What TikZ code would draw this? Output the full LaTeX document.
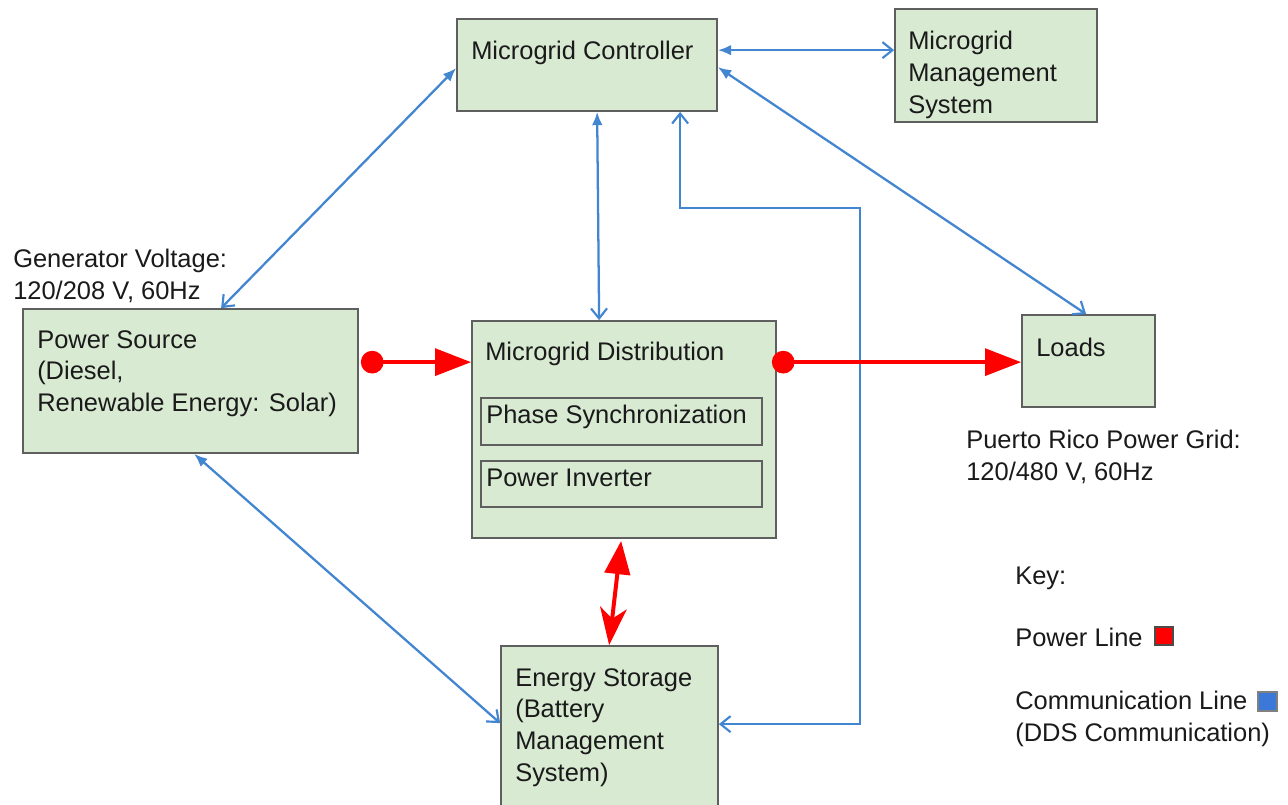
\documentclass[tikz,border=0pt]{standalone}
\usepackage{fontspec}
\setmainfont{Liberation Sans}
\usetikzlibrary{arrows.meta,calc,fit}
\definecolor{boxfill}{HTML}{D9EAD3}
\definecolor{boxline}{HTML}{5F5F5F}
\definecolor{commblue}{HTML}{4285D0}
\definecolor{keyblue}{HTML}{3C78D8}
\definecolor{txt}{HTML}{1A1A1A}
\begin{document}
\begin{tikzpicture}[x=0.75pt,y=-0.75pt,
  box/.style={draw=boxline,fill=boxfill,line width=1.3pt,inner sep=0pt},
  lbl/.style={anchor=north west,inner sep=0pt,align=left,text=txt,
    font=\fontsize{19.1}{23.8}\selectfont},
  comm/.style={draw=commblue,line width=1.7pt},
  power/.style={draw=red,line width=3pt},
]
\useasboundingbox (0,0) rectangle (1288,804);
\fill[white] (0,0) rectangle (1288,804);

% boxes
\node[box,fit={(457,19) (717,111)}] (ctrl) {};
\node[box,fit={(895,9) (1097,122)}] (mms) {};
\node[box,fit={(23,309) (358,453)}] (ps) {};
\node[box,fit={(472,321) (776,538)}] (dist) {};
\node[box,fit={(481,398) (762,445)}] (phase) {};
\node[box,fit={(481,461) (762,507)}] (inv) {};
\node[box,fit={(1022,315) (1155,407)}] (loads) {};
\node[box,fit={(501,646) (718,812)}] (es) {};

% labels
\node[lbl] (ctrlt) at (471,41) {Microgrid Controller};
\node[lbl] (mmst) at (908,31) {Microgrid\\Management\\System};
\node[lbl] (gent) at (13,249) {Generator Voltage:\\120/208 V, 60Hz};
\node[lbl] (pst) at (37,330) {Power Source\\(Diesel,\\Renewable Energy: Solar)};
\node[lbl] (distt) at (485,342) {Microgrid Distribution};
\node[lbl] (phaset) at (486,405) {Phase Synchronization};
\node[lbl] (invt) at (486,469) {Power Inverter};
\node[lbl] (loadst) at (1036,338) {Loads};
\node[lbl] (prt) at (966,430) {Puerto Rico Power Grid:\\120/480 V, 60Hz};
\node[lbl] (est) at (515,668) {Energy Storage\\(Battery\\Management\\System)};
\node[lbl] (keyt) at (1015,567) {Key:};
\node[lbl] (plt) at (1015,628) {Power Line};
\node[lbl] (clt) at (1015,691) {Communication Line\\(DDS Communication)};
\node[draw=black!70,fill=red,line width=0.8pt,inner sep=0pt,fit={(1155,627) (1173,645)}] (redsq) {};
\node[draw=black!50,fill=keyblue,line width=0.8pt,inner sep=0pt,fit={(1258,692) (1277,711)}] (bluesq) {};

% communication lines
\tikzset{fl/.tip={Latex[length=10pt,width=8pt]},
         op/.tip={Straight Barb[length=7.5pt,width=12pt,line width=1.6pt]}}
\draw[comm,fl-op] ($(ctrl.north west)+(0,50)$) -- ($(ps.north west)+(199,0)$);
\draw[comm,fl-op] ($(ctrl.north east)+(0,32)$) -- ($(mms.north west)+(0,42)$);
\draw[comm,fl-op] ($(ctrl.north east)+(0,49)$) -- ($(loads.north west)+(65,0)$);
\draw[comm,fl-op] ($(ctrl.south west)+(141,0)$) -- ($(dist.north west)+(128,0)$);
\coordinate (elbow) at (860,208);
\draw[comm,op-op] ($(ctrl.south west)+(224,0)$) |- (elbow) |- ($(es.north east)+(0,79)$);
\draw[comm,fl-op] ($(ps.south west)+(172,0)$) -- ($(es.north west)+(0,78)$);

% power lines
\draw[power,{Circle[length=17pt]}-{Triangle[length=27pt,width=20pt]}]
  ($(ps.north east)+(2,54)$) -- ($(dist.north west)+(0,42)$);
\draw[power,{Circle[length=17pt]}-{Triangle[length=27pt,width=20pt]}]
  ($(dist.north east)+(-5,42)$) -- ($(loads.north west)+(0,48)$);
\draw[power,{Triangle[length=25pt,width=19pt]}-{Stealth[length=28pt,width=20pt,inset=8pt]}]
  ($(dist.south west)+(150,2)$) -- ($(es.north west)+(109,0)$);
\end{tikzpicture}
\end{document}
